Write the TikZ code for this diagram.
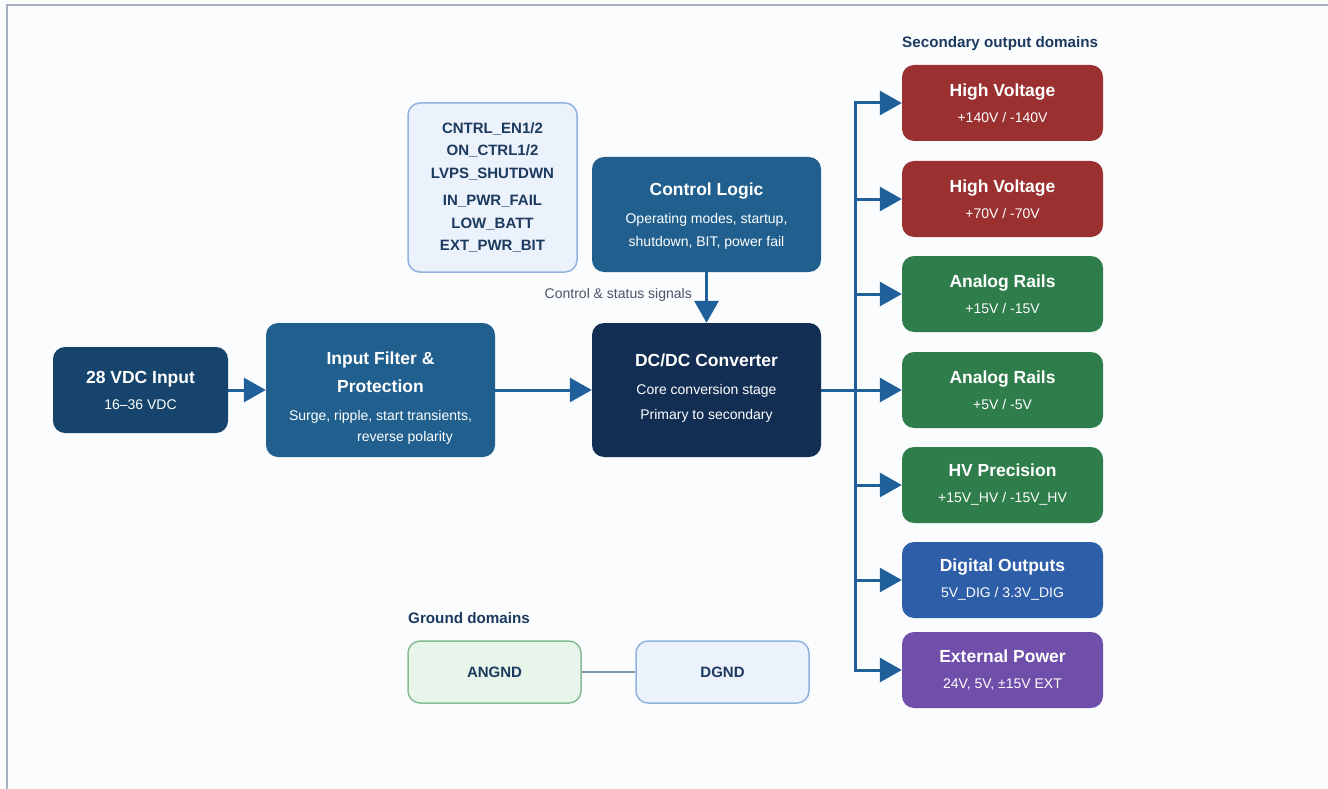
\documentclass[tikz,border=0pt]{standalone}
\usepackage{fontspec}
\setmainfont{Liberation Sans}
\usetikzlibrary{arrows.meta, positioning}

\definecolor{pagebg}{HTML}{FAFCFE}
\definecolor{framec}{HTML}{A3B1C2}
\definecolor{navy}{HTML}{1C3A5E}
\definecolor{inblue}{HTML}{16446C}
\definecolor{midblue}{HTML}{215F8E}
\definecolor{deepblue}{HTML}{122E53}
\definecolor{flowblue}{HTML}{1F5F9A}
\definecolor{hvred}{HTML}{9A3030}
\definecolor{railgreen}{HTML}{2E7D4B}
\definecolor{digblue}{HTML}{2E5EA8}
\definecolor{extpurple}{HTML}{6F4FA9}
\definecolor{sigfill}{HTML}{EBF2FB}
\definecolor{sigline}{HTML}{8FB2DF}
\definecolor{gndfill}{HTML}{E8F5EA}
\definecolor{gndline}{HTML}{86BB94}
\definecolor{labelgray}{HTML}{4A5568}
\definecolor{gndwire}{HTML}{7F95AD}

\newcommand{\boxtitle}[1]{{\fontsize{17.5}{20}\selectfont\bfseries #1}}

\begin{document}
\begin{tikzpicture}[
  x=1pt, y=-1pt,
  block/.style={rounded corners=12pt, inner sep=0pt, text=white, align=center},
  bigblock/.style={block, minimum width=229pt, minimum height=134pt},
  outbox/.style={block, minimum width=201pt, minimum height=76pt, font=\fontsize{14}{26}\selectfont},
  lightbox/.style={rounded corners=12pt, inner sep=0pt, line width=1.5pt, align=center, text=navy, font=\fontsize{15}{22.5}\selectfont\bfseries},
  heading/.style={anchor=west, inner sep=0pt, text=navy, font=\fontsize{15.2}{18}\selectfont\bfseries},
  flow/.style={-{Triangle[length=22pt, width=24pt]}, line width=3pt, flowblue},
  gwire/.style={draw=gndwire, line width=1.5pt}
]

\useasboundingbox (0,0) rectangle (1328,789);
\fill[pagebg] (0,0) rectangle (1328,789);
\draw[framec, line width=2pt] (7,789) -- (7,5) -- (1328,5);

% Input chain
\node[block, fill=inblue, minimum width=175pt, minimum height=86pt, font=\fontsize{14}{26}\selectfont] (vin) at (140.5,390) {\boxtitle{28 VDC Input}\\16--36 VDC};
\node[bigblock, fill=midblue, font=\fontsize{14}{21}\selectfont] (filt) at (380.5,390) {\rule{0pt}{28pt}\boxtitle{Input Filter \&}\\[7pt]\boxtitle{Protection}\\[7pt]Surge, ripple, start transients,\\\hspace*{49pt}reverse polarity};
\node[bigblock, fill=deepblue, font=\fontsize{14}{25}\selectfont] (conv) at (706.5,390) {\boxtitle{DC/DC Converter}\\[3pt]Core conversion stage\\Primary to secondary\rule[-7pt]{0pt}{1pt}};

% Control
\node[bigblock, fill=midblue, minimum height=115pt, font=\fontsize{14}{23}\selectfont] (ctrl) at (706.5,214.5) {\rule{0pt}{16pt}\boxtitle{Control Logic}\\[5pt]Operating modes, startup,\\shutdown, BIT, power fail};
\node[lightbox, fill=sigfill, draw=sigline, minimum width=169pt, minimum height=169pt] (sigs) at (492.5,187.5) {CNTRL\_EN1/2\\ON\_CTRL1/2\\LVPS\_SHUTDWN\\[5pt]IN\_PWR\_FAIL\\LOW\_BATT\\EXT\_PWR\_BIT};
\node[anchor=east, inner sep=0pt, text=labelgray, font=\fontsize{14}{16}\selectfont] (sigtxt) at (692,295) {Control \& status signals};

% Secondary outputs
\node[heading] (outhead) at (902,44) {Secondary output domains};
\node[outbox, fill=hvred] (hva) at (1002.5,103) {\boxtitle{High Voltage}\\+140V / -140V};
\node[outbox, fill=hvred] (hvb) at (1002.5,199) {\boxtitle{High Voltage}\\+70V / -70V};
\node[outbox, fill=railgreen] (ana) at (1002.5,294) {\boxtitle{Analog Rails}\\+15V / -15V};
\node[outbox, fill=railgreen] (anb) at (1002.5,390) {\boxtitle{Analog Rails}\\+5V / -5V};
\node[outbox, fill=railgreen] (hvp) at (1002.5,485) {\boxtitle{HV Precision}\\+15V\_HV / -15V\_HV};
\node[outbox, fill=digblue] (dig) at (1002.5,580) {\boxtitle{Digital Outputs}\\5V\_DIG / 3.3V\_DIG};
\node[outbox, fill=extpurple] (ext) at (1002.5,670) {\boxtitle{External Power}\\24V, 5V, ±15V EXT};

% Ground domains
\node[heading] (gndhead) at (408,618) {Ground domains};
\node[lightbox, fill=gndfill, draw=gndline, minimum width=173pt, minimum height=62pt] (angnd) at (494.5,672) {ANGND};
\node[lightbox, fill=sigfill, draw=sigline, minimum width=173pt, minimum height=62pt] (dgnd) at (722.5,672) {DGND};

% Connections
\coordinate (bus) at (855,390);
\draw[flow] (vin) -- (filt);
\draw[flow] (filt) -- (conv);
\draw[flow] (ctrl) -- (conv);
\foreach \o in {hva,hvb,ana,anb,hvp,dig,ext}
  \draw[flow] (conv.east) -- (bus) |- (\o.west);
\draw[gwire] (angnd) -- (dgnd);

\end{tikzpicture}
\end{document}
